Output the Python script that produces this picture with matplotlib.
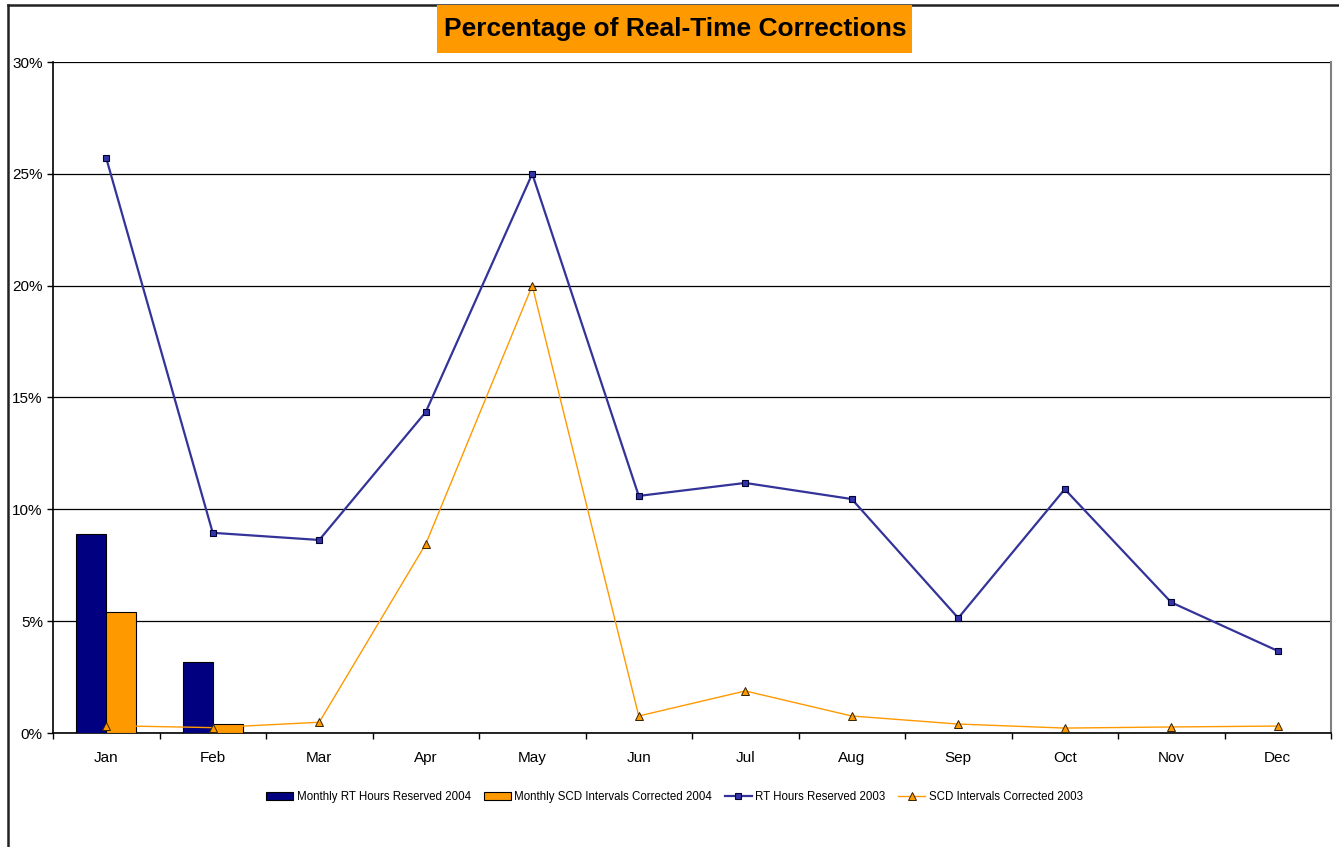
import matplotlib
matplotlib.use("Agg")
import matplotlib.pyplot as plt
from matplotlib.patches import Rectangle
from matplotlib.lines import Line2D
from matplotlib.ticker import FuncFormatter, FixedLocator
import numpy as np

months = ["Jan", "Feb", "Mar", "Apr", "May", "Jun", "Jul", "Aug", "Sep", "Oct", "Nov", "Dec"]
rt_2004 = [8.9, 3.17]
scd_2004 = [5.39, 0.42]
rt_2003 = [25.7, 8.95, 8.63, 14.35, 25.0, 10.6, 11.18, 10.46, 5.14, 10.9, 5.84, 3.67]
scd_2003 = [0.33, 0.24, 0.48, 8.45, 20.0, 0.76, 1.88, 0.76, 0.4, 0.22, 0.27, 0.31]
yticks = [0, 5, 10, 15, 20, 25, 30]
title = "Percentage of Real-Time Corrections"
labels = ["Monthly RT Hours Reserved 2004", "Monthly SCD Intervals Corrected 2004",
          "RT Hours Reserved 2003", "SCD Intervals Corrected 2003"]

plt.rcParams['font.family'] = ['Liberation Sans', 'DejaVu Sans']

W, H = 1339, 847
fig = plt.figure(figsize=(W / 100, H / 100), dpi=100)
fig.patch.set_facecolor('white')

L, R, T, B = 53, 1331, 62, 733
ax = fig.add_axes([L / W, 1 - B / H, (R - L) / W, (B - T) / H])

x = np.arange(len(months))
bw = 0.28
b1 = ax.bar(np.arange(len(rt_2004)) - bw / 2, rt_2004, bw, color='#000080', edgecolor='black', linewidth=0.8, zorder=3, label=labels[0])
b2 = ax.bar(np.arange(len(scd_2004)) + bw / 2, scd_2004, bw, color='#FF9900', edgecolor='black', linewidth=0.8, zorder=3, label=labels[1])
l1, = ax.plot(x, rt_2003, color='#333399', linewidth=1.6, marker='s', markersize=5,
              markerfacecolor='#3333AA', markeredgecolor='#000033', markeredgewidth=0.8, zorder=4, label=labels[2])
l2, = ax.plot(x, scd_2003, color='#FF9900', linewidth=1.0, marker='^', markersize=5.5,
              markerfacecolor='#FF9900', markeredgecolor='#332200', markeredgewidth=0.7, zorder=4, label=labels[3])

ax.set_xlim(-0.5, len(months) - 0.5)
ax.set_ylim(0, 30)
ax.set_yticks(yticks)
ax.yaxis.set_major_formatter(FuncFormatter(lambda v, p: f"{int(v)}%"))
ax.yaxis.grid(True, color='black', linewidth=0.9, zorder=0)
ax.tick_params(axis='y', length=4.3, width=1, pad=3, labelsize=11)

ax.xaxis.set_major_locator(FixedLocator(np.arange(-0.5, len(months), 1.0)))
ax.xaxis.set_minor_locator(FixedLocator(x))
ax.set_xticklabels([], minor=False)
ax.set_xticklabels(months, minor=True)
ax.tick_params(axis='x', which='major', length=4.5, width=1)
ax.tick_params(axis='x', which='minor', length=0, pad=13, labelsize=11)

for s in ['left', 'bottom']:
    ax.spines[s].set_color('black')
    ax.spines[s].set_linewidth(1.2)
ax.spines['top'].set_visible(False)
ax.spines['right'].set_color('#808080')
ax.spines['right'].set_linewidth(1.5)

# outer chart border (left and top visible)
fig.add_artist(Line2D([8 / W, 8 / W], [0, 1 - 5 / H], transform=fig.transFigure, color='#222222', linewidth=1.8))
fig.add_artist(Line2D([8 / W, 1], [1 - 5 / H, 1 - 5 / H], transform=fig.transFigure, color='#222222', linewidth=1.8))

# title with orange box
fig.add_artist(Rectangle((437 / W, 1 - 53 / H), (912 - 437) / W, 48 / H, transform=fig.transFigure,
                         facecolor='#FF9900', edgecolor='none', zorder=5))
fig.text(675 / W, 1 - 29 / H, title, ha='center', va='center', fontsize=19, fontweight='bold', zorder=6)

leg = fig.legend(handles=[b1, b2, l1, l2], labels=labels, loc='center',
                 bbox_to_anchor=(674.5 / W, 1 - 797 / H), ncol=4, frameon=False,
                 prop={'size': 8.3}, handlelength=2.35, handleheight=0.7,
                 columnspacing=1.1, handletextpad=0.3, borderpad=0, borderaxespad=0)

fig.savefig("out.png", dpi=100)
